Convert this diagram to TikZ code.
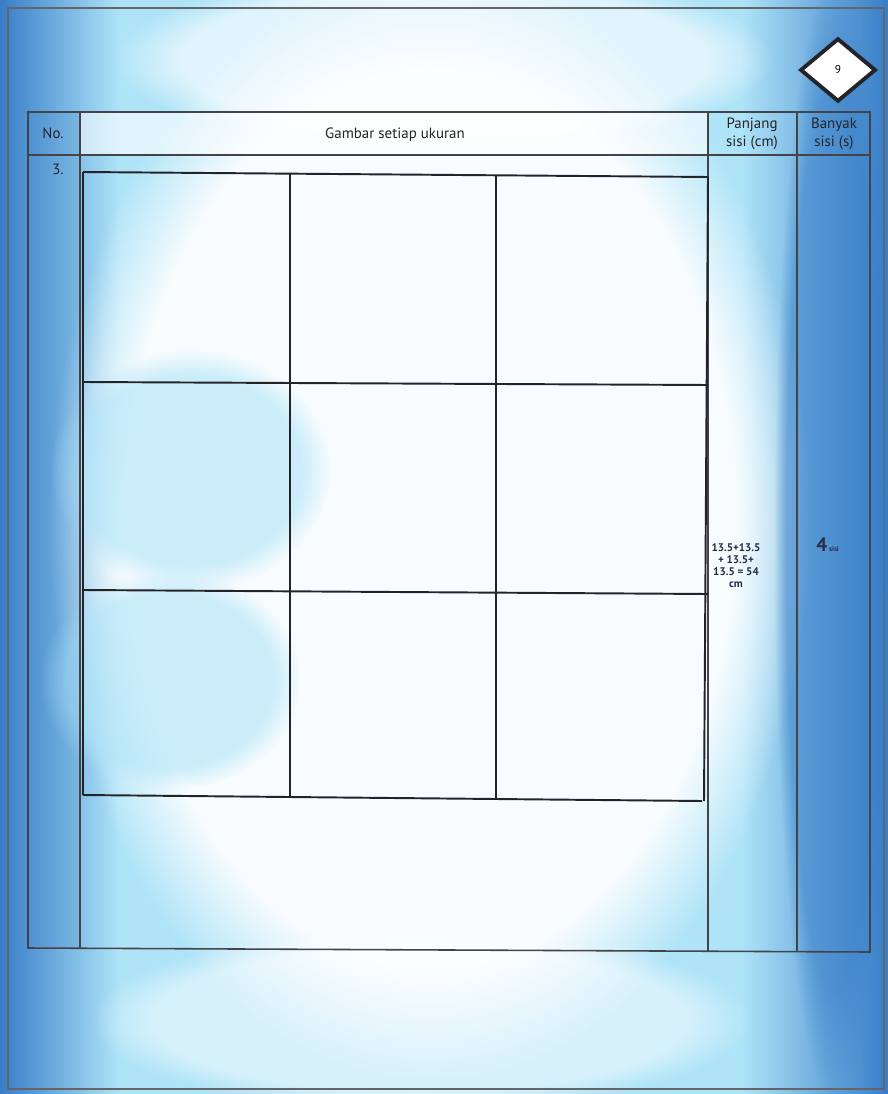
\documentclass[tikz,border=0pt]{standalone}
\usepackage{fontspec}
\setmainfont{PT Sans}
\usetikzlibrary{shapes.geometric,fadings}
\definecolor{bgblue}{RGB}{55,125,200}
\definecolor{bgcyan}{RGB}{175,228,248}
\definecolor{inkc}{RGB}{35,35,40}
\definecolor{hand}{RGB}{40,45,70}
\tikzset{
  tab/.style={draw=inkc!85, line width=0.9pt},
  grid/.style={draw=inkc, line width=1.1pt},
  head/.style={font=\fontsize{8.5}{10}\selectfont, text=inkc, align=center, inner sep=0pt},
  handw/.style={font=\bfseries\fontsize{6.3}{6.8}\selectfont, text=hand, align=center, inner sep=0pt},
  soft/.style={path fading=circle with fuzzy edge 20 percent}
}
\begin{document}
\begin{tikzpicture}[x=0.02cm,y=-0.02cm]
\useasboundingbox (0,0) rectangle (888,1094);
% background
\fill[bgcyan] (0,0) rectangle (888,1094);
\shade[left color=bgblue, right color=bgcyan] (0,0) rectangle (120,1094);
\shade[left color=bgcyan, right color=bgblue] (740,0) rectangle (888,1094);
\fill[white, opacity=0.9, soft] (430,520) ellipse (380 and 560);
\fill[white, opacity=0.6, soft] (444,60) ellipse (330 and 90);
\fill[white, opacity=0.5, soft] (420,1020) ellipse (330 and 90);
\fill[bgcyan, opacity=0.6, soft] (190,470) ellipse (140 and 120);
\fill[bgcyan, opacity=0.6, soft] (170,680) ellipse (130 and 110);
\draw[inkc!70, line width=1pt] (8,8) rectangle (884,1089);
% table column backgrounds
\fill[bgblue, opacity=0.15] (28,112) rectangle (80,948);
\fill[bgblue, opacity=0.5, soft] (834,540) ellipse (60 and 560);
\fill[white, opacity=0.6] (80,112) rectangle (708,155);
% table lines
\draw[tab] (28,112) -- (870,112) -- (870,952) -- (28,948) -- cycle;
\draw[tab] (28,155) -- (870,155);
\draw[tab] (80,112) -- (80,948);
\draw[tab] (708,112) -- (708,951);
\draw[tab] (797,112) -- (797,952);
% header texts
\node[head] (no) at (53,133) {No.};
\node[head] (gambar) at (395,135) {Gambar setiap ukuran};
\node[head] (panjang) at (752,134) {Panjang\\sisi (cm)};
\node[head] (banyak) at (834,134) {Banyak\\sisi (s)};
\node[head] (three) at (58,169) {3.};
% diamond page number
\node[draw=inkc, line width=2.2pt, fill=white, diamond, minimum width=43pt, minimum height=36pt, inner sep=0pt, font=\fontsize{6.5}{7}\selectfont] (pg) at (838,70) {9};
% hand-drawn grid
\draw[grid] (83,172) -- (708,177);
\draw[grid] (83,382) -- (708,385);
\draw[grid] (83,590) -- (708,594);
\draw[grid] (83,795) -- (702,801);
\draw[grid] (83,172) -- (83,795);
\draw[grid] (290,174) -- (290,797);
\draw[grid] (496,175) -- (496,799);
\draw[grid] (708,177) -- (704,801);
% handwritten values
\node[handw] (calc) at (736,566) {13.5+13.5\\+ 13.5+\\13.5 = 54\\cm};
\node[handw, anchor=west] (sisi) at (816,545) {{\fontsize{11}{11}\selectfont 4}\,{\fontsize{4}{4}\selectfont sisi}};
\end{tikzpicture}
\end{document}
